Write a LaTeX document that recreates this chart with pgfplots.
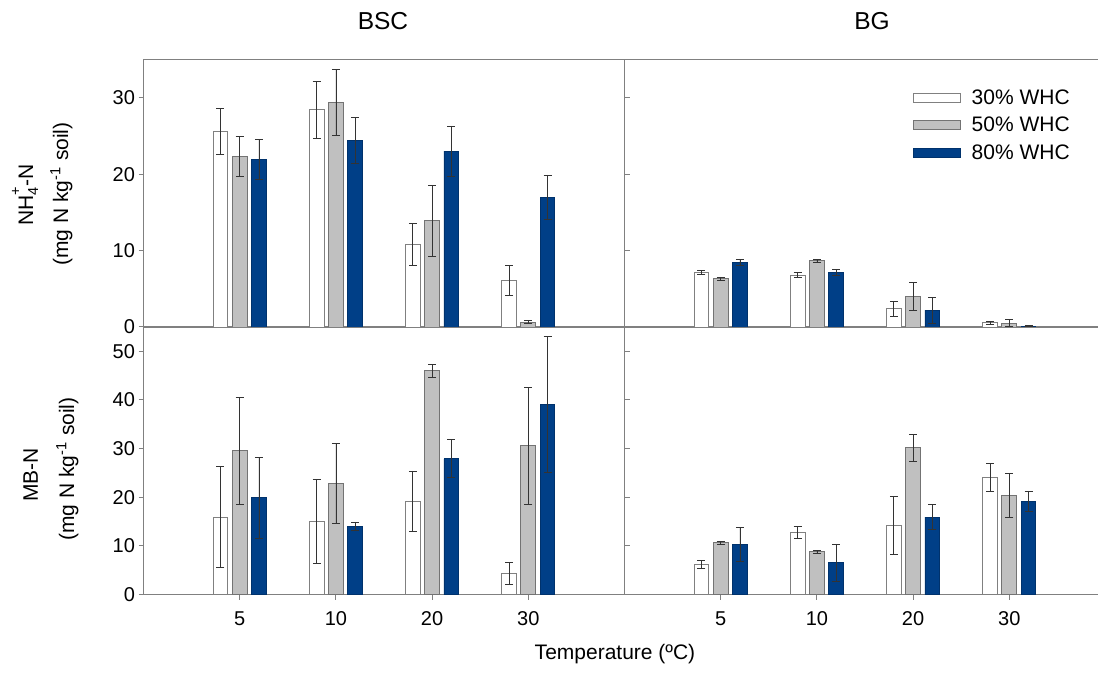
\documentclass[border=0pt]{standalone}
\usepackage{fontspec}
\setmainfont{Liberation Sans}
\usepackage{pgfplots}
\pgfplotsset{compat=1.18}
\usepackage{pgfplotstable}

\definecolor{barblue}{HTML}{003F87}
\definecolor{bargray}{HTML}{C0C0C0}
\definecolor{axgray}{HTML}{808080}
\definecolor{errc}{HTML}{333333}

\pgfplotstableread{
x a ea b eb c ec
0 25.6 3.0 22.3 2.6 21.9 2.6
1 28.4 3.7 29.4 4.3 24.4 3.0
2 10.8 2.7 13.9 4.6 23.0 3.3
3 6.1 2.0 0.65 0.2 17.0 2.9
}\nhbsc

\pgfplotstableread{
x a ea b eb c ec
0 7.1 0.25 6.35 0.2 8.5 0.4
1 6.8 0.3 8.65 0.15 7.1 0.4
2 2.4 1.0 4.0 1.8 2.2 1.7
3 0.57 0.2 0.52 0.45 0.1 0.05
}\nhbg

\pgfplotstableread{
x a ea b eb c ec
0 15.9 10.4 29.6 11.0 19.9 8.3
1 15.0 8.6 22.8 8.2 14.0 0.75
2 19.2 6.2 46.0 1.3 27.9 3.9
3 4.3 2.3 30.6 12.0 39.1 14.0
}\mbbsc

\pgfplotstableread{
x a ea b eb c ec
0 6.2 0.8 10.7 0.3 10.3 3.5
1 12.8 1.2 8.8 0.3 6.5 3.9
2 14.2 6.0 30.2 2.8 15.9 2.6
3 24.0 2.9 20.4 4.6 19.2 2.1
}\mbbg

\pgfplotsset{
  panel/.style={scale only axis, width=481pt, height=267.5pt,
    xmin=-1, xmax=4, ymin=0,
    axis line style={axgray, line width=1pt},
    tick style={axgray, line width=1pt},
    major tick length=5pt, tick align=outside,
    ticklabel style={font=\fontsize{20}{24}\selectfont},
    xticklabel style={yshift=-9pt},
    /pgf/number format/assume math mode=true},
  errs/.style={error bars/.cd, y dir=both, y explicit,
    error bar style={errc, line width=0.8pt},
    error mark options={rotate=90, mark size=4pt, errc, line width=0.8pt}},
  s30/.style={ybar, bar width=0.153, bar shift=0, fill=white, draw=axgray, line width=0.9pt, errs},
  s50/.style={ybar, bar width=0.153, bar shift=0, fill=bargray, draw=black!55, line width=0.9pt, errs},
  s80/.style={ybar, bar width=0.153, bar shift=0, fill=barblue, draw=barblue!80!black, line width=0.9pt, errs},
}

\begin{document}
\begin{tikzpicture}
\path[use as bounding box, clip] (0,0) rectangle (1098pt,686pt);

% top-left
\begin{axis}[panel, at={(143.5pt,359pt)}, anchor=south west,
  ymax=35, ytick={0,10,20,30}, ytick pos=both, yticklabel pos=left, xtick=\empty]
\addplot[s30] table[x expr=\thisrow{x}-0.2, y=a, y error=ea] {\nhbsc};
\addplot[s50] table[x=x, y=b, y error=eb] {\nhbsc};
\addplot[s80] table[x expr=\thisrow{x}+0.2, y=c, y error=ec] {\nhbsc};
\end{axis}

% bottom-left
\begin{axis}[panel, at={(143.5pt,91.5pt)}, anchor=south west,
  ymax=55, ytick={0,10,20,30,40,50}, ytick pos=both, yticklabel pos=left,
  xtick={0,1,2,3}, xticklabels={5,10,20,30}, xtick pos=bottom]
\addplot[s30] table[x expr=\thisrow{x}-0.2, y=a, y error=ea] {\mbbsc};
\addplot[s50] table[x=x, y=b, y error=eb] {\mbbsc};
\addplot[s80] table[x expr=\thisrow{x}+0.2, y=c, y error=ec] {\mbbsc};
\end{axis}

% top-right
\begin{axis}[panel, at={(624.5pt,359pt)}, anchor=south west,
  ymax=35, ytick=\empty, xtick=\empty,
  legend style={draw=none, fill=none, at={(0.599,0.889)}, anchor=north west,
    inner sep=0pt, row sep=8.4pt, column sep=11pt,
    font=\fontsize{21}{25}\selectfont,
    nodes={inner sep=0pt, text height=15pt, text depth=4pt}},
  legend cell align=left,
  legend image code/.code={\draw[#1,/tikz/.cd] (0pt,-3.5pt) rectangle (47pt,5.5pt);}]
\addplot[s30] table[x expr=\thisrow{x}-0.2, y=a, y error=ea] {\nhbg};
\addplot[s50] table[x=x, y=b, y error=eb] {\nhbg};
\addplot[s80] table[x expr=\thisrow{x}+0.2, y=c, y error=ec] {\nhbg};
\legend{30\% WHC, 50\% WHC, 80\% WHC}
\end{axis}

% bottom-right
\begin{axis}[panel, at={(624.5pt,91.5pt)}, anchor=south west,
  ymax=55, ytick=\empty,
  xtick={0,1,2,3}, xticklabels={5,10,20,30}, xtick pos=bottom]
\addplot[s30] table[x expr=\thisrow{x}-0.2, y=a, y error=ea] {\mbbg};
\addplot[s50] table[x=x, y=b, y error=eb] {\mbbg};
\addplot[s80] table[x expr=\thisrow{x}+0.2, y=c, y error=ec] {\mbbg};
\end{axis}

% titles and labels
\node[font=\fontsize{24.5}{28}\selectfont] at (383pt,665pt) {BSC};
\node[font=\fontsize{24.5}{28}\selectfont] at (872pt,665pt) {BG};
\node[font=\fontsize{21}{25}\selectfont] at (615pt,32pt) {Temperature (ºC)};

\node[rotate=90, anchor=base, font=\fontsize{21}{25}\selectfont] at (33pt,491pt)
  {NH\rlap{\raisebox{-0.25em}{\fontsize{14.5}{15}\selectfont 4}}\raisebox{0.6em}{\fontsize{14.5}{15}\selectfont +}-N};
\node[rotate=90, anchor=base, font=\fontsize{21}{25}\selectfont] at (68pt,492pt) {(mg N kg\textsuperscript{-1} soil)};
\node[rotate=90, anchor=base, font=\fontsize{21}{25}\selectfont] at (38pt,211pt) {MB-N};
\node[rotate=90, anchor=base, font=\fontsize{21}{25}\selectfont] at (74pt,217pt) {(mg N kg\textsuperscript{-1} soil)};
\end{tikzpicture}
\end{document}
